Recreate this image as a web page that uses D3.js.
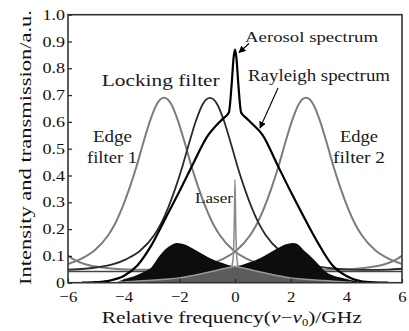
<!DOCTYPE html>
<html><head><meta charset="utf-8">
<script src="https://cdn.jsdelivr.net/npm/d3@7"></script>
<style>html,body{margin:0;padding:0;background:#fff;}svg{display:block;}</style>
</head><body>
<script>
// ---- data ----
const xTicks = [-6, -4, -2, 0, 2, 4, 6];
const xTickLabels = ["\u22126", "\u22124", "\u22122", "0", "2", "4", "6"];
const yTicks = [0, 0.1, 0.2, 0.3, 0.4, 0.5, 0.6, 0.7, 0.8, 0.9, 1.0];
const yTickLabels = ["0", "0.1", "0.2", "0.3", "0.4", "0.5", "0.6", "0.7", "0.8", "0.9", "1.0"];

const edge1X = [-6, -5.55, -5.05, -4.55, -4.3, -4.05, -3.8, -3.55, -3.3, -3.05, -2.8, -2.55, -2.3, -2.05, -1.8, -1.55, -1.3, -1.05, -0.8, -0.55, -0.05, 0.45, 0.95, 1.45, 1.95, 2.45, 3.15, 3.85, 4.35, 4.85, 5.35, 5.85, 6];
const edge1Y = [0.07, 0.088, 0.12, 0.178, 0.222, 0.28, 0.35, 0.43, 0.52, 0.605, 0.668, 0.69, 0.668, 0.605, 0.52, 0.43, 0.35, 0.28, 0.222, 0.178, 0.12, 0.088, 0.068, 0.058, 0.052, 0.049, 0.048, 0.049, 0.052, 0.058, 0.068, 0.09, 0.1];

const edge2X = [-6, -5.85, -5.35, -4.85, -4.35, -3.85, -3.15, -2.45, -1.95, -1.45, -0.95, -0.45, 0.05, 0.55, 0.8, 1.05, 1.3, 1.55, 1.8, 2.05, 2.3, 2.55, 2.8, 3.05, 3.3, 3.55, 3.8, 4.05, 4.3, 4.55, 5.05, 5.55, 6];
const edge2Y = [0.1, 0.09, 0.068, 0.058, 0.052, 0.049, 0.048, 0.049, 0.052, 0.058, 0.068, 0.088, 0.12, 0.178, 0.222, 0.28, 0.35, 0.43, 0.52, 0.605, 0.668, 0.69, 0.668, 0.605, 0.52, 0.43, 0.35, 0.28, 0.222, 0.178, 0.12, 0.088, 0.07];

const lockX = [-6, -5.4, -4.9, -4.4, -3.9, -3.4, -2.9, -2.65, -2.4, -2.15, -1.9, -1.65, -1.4, -1.15, -0.9, -0.65, -0.4, -0.15, 0.1, 0.35, 0.6, 0.85, 1.1, 1.6, 2.1, 2.6, 3.1, 3.6, 4.1, 4.8, 5.5, 6];
const lockY = [0.049, 0.052, 0.058, 0.068, 0.088, 0.12, 0.178, 0.222, 0.28, 0.35, 0.43, 0.52, 0.605, 0.668, 0.69, 0.668, 0.605, 0.52, 0.43, 0.35, 0.28, 0.222, 0.178, 0.12, 0.088, 0.068, 0.058, 0.052, 0.049, 0.048, 0.049, 0.052];

const baseX = [-6, 6];
const baseY = [0.042, 0.042];

const rayX = [-5.5, -5, -4.5, -4, -3.5, -3, -2.5, -2, -1.5, -1, -0.6, -0.4, -0.22, -0.12, -0.05, 0, 0.05, 0.12, 0.22, 0.4, 0.6, 1, 1.5, 2, 2.5, 3, 3.5, 4, 4.5, 5, 5.5];
const rayY = [0, 0.002, 0.008, 0.025, 0.065, 0.14, 0.24, 0.34, 0.445, 0.545, 0.595, 0.615, 0.635, 0.74, 0.84, 0.87, 0.84, 0.74, 0.635, 0.615, 0.595, 0.55, 0.445, 0.34, 0.24, 0.145, 0.065, 0.025, 0.006, 0.001, 0];

const blackX = [-4.2, -4, -3.75, -3.5, -3.25, -3, -2.75, -2.5, -2.3, -2.1, -1.9, -1.7, -1.5, -1.25, -1, -0.75, -0.5, -0.25, 0, 0.25, 0.5, 0.75, 1, 1.25, 1.5, 1.7, 1.9, 2.1, 2.3, 2.5, 2.75, 3, 3.25, 3.5, 3.75, 4, 4.4];
const blackY = [0.004, 0.012, 0.02, 0.03, 0.042, 0.058, 0.095, 0.125, 0.14, 0.148, 0.145, 0.138, 0.127, 0.112, 0.097, 0.085, 0.075, 0.066, 0.062, 0.066, 0.075, 0.085, 0.097, 0.112, 0.127, 0.138, 0.145, 0.148, 0.14, 0.118, 0.095, 0.068, 0.042, 0.028, 0.02, 0.014, 0.005];

const grayX = [-4.2, -3.5, -3, -2.5, -2, -1.5, -1, -0.5, -0.2, 0, 0.2, 0.5, 1, 1.5, 2, 2.5, 3, 3.5, 4.2];
const grayY = [0.002, 0.006, 0.009, 0.013, 0.018, 0.027, 0.038, 0.05, 0.057, 0.061, 0.057, 0.05, 0.038, 0.027, 0.018, 0.013, 0.009, 0.006, 0.002];

const laserX = [-0.12, -0.06, -0.03, 0, 0.03, 0.06, 0.12];
const laserY = [0.058, 0.1, 0.2, 0.385, 0.2, 0.1, 0.058];

// ---- layout ----
const W = 409, H = 331;
const m = {left: 68, right: 7, top: 14.7, bottom: 48.3};
const svg = d3.select("body").append("svg").attr("width", W).attr("height", H);
svg.append("rect").attr("width", W).attr("height", H).attr("fill", "#fff");

const x = d3.scaleLinear().domain([-6, 6]).range([m.left, W - m.right]);
const y = d3.scaleLinear().domain([0, 1]).range([H - m.bottom, m.top]);

const zip = (xs, ys) => xs.map((v, i) => [v, ys[i]]);
const line = d3.line().x(d => x(d[0])).y(d => y(d[1])).curve(d3.curveMonotoneX);
const area = d3.area().x(d => x(d[0])).y0(y(0)).y1(d => y(d[1])).curve(d3.curveMonotoneX);

svg.append("clipPath").attr("id", "clip").append("rect")
  .attr("x", m.left).attr("y", m.top).attr("width", W - m.left - m.right).attr("height", H - m.top - m.bottom);
const g = svg.append("g").attr("clip-path", "url(#clip)");

g.append("path").attr("d", line(zip(baseX, baseY))).attr("fill", "none").attr("stroke", "#444").attr("stroke-width", 1.5);
g.append("path").attr("d", line(zip(edge1X, edge1Y))).attr("fill", "none").attr("stroke", "#7c7c7c").attr("stroke-width", 2);
g.append("path").attr("d", line(zip(edge2X, edge2Y))).attr("fill", "none").attr("stroke", "#7c7c7c").attr("stroke-width", 2);
g.append("path").attr("d", line(zip(lockX, lockY))).attr("fill", "none").attr("stroke", "#2a2a2a").attr("stroke-width", 1.8);
g.append("path").attr("d", area(zip(blackX, blackY))).attr("fill", "#0d0d0d");
g.append("path").attr("d", area(zip(grayX, grayY))).attr("fill", "#5c5c5c");
g.append("path").attr("d", line(zip(grayX, grayY))).attr("fill", "none").attr("stroke", "#9a9a9a").attr("stroke-width", 1.5);
g.append("path").attr("d", line(zip(laserX, laserY))).attr("fill", "none").attr("stroke", "#8a8a8a").attr("stroke-width", 1.5);
g.append("path").attr("d", line(zip(rayX, rayY))).attr("fill", "none").attr("stroke", "#000").attr("stroke-width", 2.2);

// ---- axes ----
const font = "'Liberation Serif', 'Times New Roman', serif";
function stretch(sel, f) {
  sel.each(function() {
    const w = this.getComputedTextLength();
    d3.select(this).attr("textLength", w * f).attr("lengthAdjust", "spacingAndGlyphs");
  });
}
const xAxis = svg.append("g").attr("transform", `translate(0,${y(0)})`)
  .call(d3.axisBottom(x).tickValues(xTicks).tickFormat((d, i) => xTickLabels[i]).tickSizeInner(-4).tickSizeOuter(0).tickPadding(8.5));
const yAxis = svg.append("g").attr("transform", `translate(${m.left},0)`)
  .call(d3.axisLeft(y).tickValues(yTicks).tickFormat((d, i) => yTickLabels[i]).tickSizeInner(-4).tickSizeOuter(0).tickPadding(3));
[xAxis, yAxis].forEach(a => {
  a.select(".domain").remove();
  a.selectAll(".tick line").attr("stroke", "#222").attr("stroke-width", 1.2);
  a.selectAll("text").attr("font-family", font).attr("fill", "#111");
});
xAxis.selectAll("text").attr("font-size", 15.5).attr("dy", "0.71em");
yAxis.selectAll("text").attr("font-size", 15).attr("dy", "0.3em");
stretch(yAxis.selectAll("text"), 1.2);
stretch(xAxis.selectAll("text"), 1.08);

svg.append("rect").attr("x", m.left).attr("y", m.top).attr("width", W - m.left - m.right).attr("height", H - m.top - m.bottom)
  .attr("fill", "none").attr("stroke", "#333").attr("stroke-width", 1.6);

// ---- titles ----
const xt = svg.append("text").attr("x", 101.7).attr("y", 323).attr("font-family", font).attr("font-size", 17).attr("fill", "#111")
  .attr("textLength", 260).attr("lengthAdjust", "spacingAndGlyphs");
xt.append("tspan").text("Relative frequency(");
xt.append("tspan").attr("font-style", "italic").text("\u03bd");
xt.append("tspan").text("\u2212");
xt.append("tspan").attr("font-style", "italic").text("\u03bd");
xt.append("tspan").attr("font-size", 10).attr("dy", 3).text("0");
xt.append("tspan").attr("dy", -3).text(")/GHz");

svg.append("text").attr("transform", "translate(31,285) rotate(-90)").attr("font-family", font).attr("font-size", 17).attr("fill", "#111")
  .attr("textLength", 275).attr("lengthAdjust", "spacingAndGlyphs").text("Intensity and transmission/a.u.");

// ---- labels ----
function label(t, x0, yb, w, fs) {
  svg.append("text").attr("x", x0).attr("y", yb).attr("font-family", font).attr("font-size", fs).attr("fill", "#1a1a1a")
    .attr("textLength", w).attr("lengthAdjust", "spacingAndGlyphs").text(t);
}
label("Aerosol spectrum", 245, 42, 133, 15.5);
label("Rayleigh spectrum", 248, 81, 142, 16);
label("Locking  filter", 101.7, 86, 118, 16);
label("Edge", 93, 141.7, 39, 16);
label("filter 1", 87, 163.3, 50, 16);
label("Edge", 340, 141.7, 38, 16);
label("filter 2", 333, 163.3, 52, 16);
label("Laser", 195, 203, 38, 15);

// ---- arrows ----
const defs = svg.append("defs");
defs.append("marker").attr("id", "ah").attr("viewBox", "0 0 10 10").attr("refX", 9).attr("refY", 5)
  .attr("markerWidth", 7).attr("markerHeight", 7).attr("orient", "auto").attr("markerUnits", "userSpaceOnUse")
  .append("path").attr("d", "M0,0 L10,5 L0,10 z").attr("fill", "#000");
svg.append("line").attr("x1", 249).attr("y1", 43.5).attr("x2", 239).attr("y2", 52.5).attr("stroke", "#000").attr("stroke-width", 1.1).attr("marker-end", "url(#ah)");
svg.append("line").attr("x1", 278).attr("y1", 88).attr("x2", 260).attr("y2", 128).attr("stroke", "#000").attr("stroke-width", 1.1).attr("marker-end", "url(#ah)");
</script>
</body></html>
